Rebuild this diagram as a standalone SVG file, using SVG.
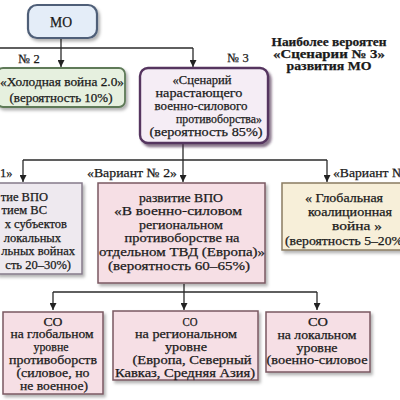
<svg xmlns="http://www.w3.org/2000/svg" width="400" height="400" viewBox="0 0 400 400">
<defs>
<filter id="sh" x="-10%" y="-10%" width="130%" height="130%">
<feDropShadow dx="2" dy="2.5" stdDeviation="1.5" flood-color="#000" flood-opacity="0.3"/>
</filter>
<filter id="sh2" x="-10%" y="-10%" width="130%" height="130%">
<feDropShadow dx="2.5" dy="3" stdDeviation="1.2" flood-color="#3a2040" flood-opacity="0.6"/>
</filter>
<marker id="ar" viewBox="0 0 10 10" refX="10" refY="5" markerWidth="7" markerHeight="7" markerUnits="userSpaceOnUse" orient="auto">
<path d="M0,0 L10,5 L0,10 z" fill="#222"/>
</marker>
<style>
text{font-family:"Liberation Serif","Times New Roman",serif;fill:#1a1a1a;stroke:#1a1a1a;stroke-width:0.25;text-anchor:middle}
.t13{font-size:12.5px}
.t12{font-size:12px}
.t14{font-size:13px}
.lbl{font-size:12.5px}
.ttl{font-size:12px;font-weight:bold}
.end{text-anchor:end}
.st{text-anchor:start}
.c{fill:none;stroke:#2a2a2a;stroke-width:1.3}
.ca{fill:none;stroke:#2a2a2a;stroke-width:1.3;marker-end:url(#ar)}
</style>
</defs>
<rect width="400" height="400" fill="#fff"/>

<g id="connectors">
<path class="c" d="M0,48 H193"/>
<path class="ca" d="M61,38 V67"/>
<path class="ca" d="M193,48 V67"/>
<path class="c" d="M23,160 H327"/>
<path class="ca" d="M183,143 V182"/>
<path class="ca" d="M23,160 V182"/>
<path class="ca" d="M327,160 V182"/>
<path class="c" d="M53,292 H317"/>
<path class="ca" d="M184,284 V310"/>
<path class="ca" d="M53,292 V310"/>
<path class="ca" d="M317,292 V310"/>
</g>

<g id="labels">
<text class="lbl" x="29" y="63">№ 2</text>
<text class="lbl" x="238" y="62">№ 3</text>
<text class="lbl st" x="0" y="177">1»</text>
<text class="lbl" x="132" y="177" textLength="90" lengthAdjust="spacingAndGlyphs">«Вариант № 2»</text>
<text class="lbl st" x="333" y="177" textLength="72" lengthAdjust="spacingAndGlyphs">«Вариант №</text>
</g>

<g id="title">
<text class="ttl" x="329" y="46" textLength="115" lengthAdjust="spacingAndGlyphs">Наиболее вероятен</text>
<text class="ttl" x="329" y="58" textLength="112" lengthAdjust="spacingAndGlyphs">«Сценарии № 3»</text>
<text class="ttl" x="329" y="70" textLength="85" lengthAdjust="spacingAndGlyphs">развития МО</text>
</g>

<g id="node-mo">
<rect x="28" y="5" width="69" height="33" rx="9" fill="#e4edf8" stroke="#4f5f78" stroke-width="2.2" filter="url(#sh)"/>
<text class="t14" x="61" y="27" style="font-size:14px" textLength="22" lengthAdjust="spacingAndGlyphs">МО</text>
</g>

<g id="node-s2">
<rect x="-3" y="68" width="128" height="39" rx="6" fill="#e6f0df" stroke="#5e7a58" stroke-width="1.8" filter="url(#sh)"/>
<text class="t13" x="62" y="86" textLength="124" lengthAdjust="spacingAndGlyphs">«Холодная война 2.0»</text>
<text class="t13" x="61" y="102" textLength="103" lengthAdjust="spacingAndGlyphs">(вероятность 10%)</text>
</g>

<g id="node-s3">
<rect x="140" y="68" width="128" height="75" rx="8" fill="#f5edf5" stroke="#55345f" stroke-width="2.4" filter="url(#sh2)"/>
<text class="t14" x="202" y="84" textLength="59" lengthAdjust="spacingAndGlyphs">«Сценарий</text>
<text class="t14" x="199" y="97" textLength="87" lengthAdjust="spacingAndGlyphs">нарастающего</text>
<text class="t14" x="201" y="110" textLength="93" lengthAdjust="spacingAndGlyphs">военно-силового</text>
<text class="t14" x="219" y="123" textLength="86" lengthAdjust="spacingAndGlyphs">противоборства»</text>
<text class="t14" x="206" y="136" textLength="113" lengthAdjust="spacingAndGlyphs">(вероятность 85%)</text>
</g>

<g id="node-v1">
<rect x="-3" y="183" width="85" height="91" fill="#eee9ef" stroke="#857a8a" stroke-width="1.5" filter="url(#sh)"/>
<text class="t13 end" x="48" y="201">тие ВПО</text>
<text class="t13 end" x="47" y="214">тием ВС</text>
<text class="t13 end" x="67" y="228">х субъектов</text>
<text class="t13 end" x="61" y="242">локальных</text>
<text class="t13 end" x="75" y="255">льных войнах</text>
<text class="t13 end" x="71" y="269">сть 20–30%)</text>
</g>

<g id="node-v2">
<rect x="98" y="183" width="167" height="100" fill="#f6dfe5" stroke="#7a5862" stroke-width="1.5" filter="url(#sh)"/>
<text class="t14" x="181" y="202" textLength="84" lengthAdjust="spacingAndGlyphs">развитие ВПО</text>
<text class="t14" x="178" y="215" textLength="128" lengthAdjust="spacingAndGlyphs">«В военно-силовом</text>
<text class="t14" x="181" y="229" textLength="84" lengthAdjust="spacingAndGlyphs">региональном</text>
<text class="t14" x="182" y="242" textLength="115" lengthAdjust="spacingAndGlyphs">противоборстве на</text>
<text class="t14" x="182" y="256" textLength="166" lengthAdjust="spacingAndGlyphs">отдельном ТВД (Европа)»</text>
<text class="t14" x="179" y="270" textLength="142" lengthAdjust="spacingAndGlyphs">(вероятность 60–65%)</text>
</g>

<g id="node-v3">
<rect x="282" y="183" width="125" height="67" fill="#f7efd9" stroke="#8a7c62" stroke-width="1.5" filter="url(#sh)"/>
<text class="t13" x="344" y="202" textLength="78" lengthAdjust="spacingAndGlyphs">« Глобальная</text>
<text class="t13" x="350" y="216" textLength="84" lengthAdjust="spacingAndGlyphs">коалиционная</text>
<text class="t13" x="357" y="230" textLength="50" lengthAdjust="spacingAndGlyphs">война »</text>
<text class="t13 st" x="285" y="245" textLength="118" lengthAdjust="spacingAndGlyphs">(вероятность 5–20%</text>
</g>

<g id="node-co1">
<rect x="3" y="312" width="100" height="82" fill="#f6dfe5" stroke="#7a5862" stroke-width="1.5" filter="url(#sh)"/>
<text class="t12" x="53" y="326" textLength="19" lengthAdjust="spacingAndGlyphs">СО</text>
<text class="t12" x="52" y="338" textLength="83" lengthAdjust="spacingAndGlyphs">на глобальном</text>
<text class="t12" x="51" y="351" textLength="35" lengthAdjust="spacingAndGlyphs">уровне</text>
<text class="t12" x="53" y="364" textLength="88" lengthAdjust="spacingAndGlyphs">противоборств</text>
<text class="t12" x="53" y="377" textLength="73" lengthAdjust="spacingAndGlyphs">(силовое, но</text>
<text class="t12" x="54" y="390" textLength="68" lengthAdjust="spacingAndGlyphs">не военное)</text>
</g>

<g id="node-co2">
<rect x="113" y="311" width="145" height="69" fill="#f6dfe5" stroke="#7a5862" stroke-width="1.5" filter="url(#sh)"/>
<text class="t12" x="190" y="326" textLength="15" lengthAdjust="spacingAndGlyphs">СО</text>
<text class="t12" x="186" y="338" textLength="102" lengthAdjust="spacingAndGlyphs">на региональном</text>
<text class="t12" x="186" y="351" textLength="42" lengthAdjust="spacingAndGlyphs">уровне</text>
<text class="t12" x="192" y="364" textLength="119" lengthAdjust="spacingAndGlyphs">(Европа, Северный</text>
<text class="t12" x="185" y="377" textLength="140" lengthAdjust="spacingAndGlyphs">Кавказ, Средняя Азия)</text>
</g>

<g id="node-co3">
<rect x="266" y="312" width="104" height="60" fill="#f6dfe5" stroke="#7a5862" stroke-width="1.5" filter="url(#sh)"/>
<text class="t12" x="318" y="326" textLength="20" lengthAdjust="spacingAndGlyphs">СО</text>
<text class="t12" x="317" y="339" textLength="79" lengthAdjust="spacingAndGlyphs">на локальном</text>
<text class="t12" x="317" y="352" textLength="41" lengthAdjust="spacingAndGlyphs">уровне</text>
<text class="t12" x="317" y="364" textLength="101" lengthAdjust="spacingAndGlyphs">(военно-силовое</text>
</g>
</svg>
